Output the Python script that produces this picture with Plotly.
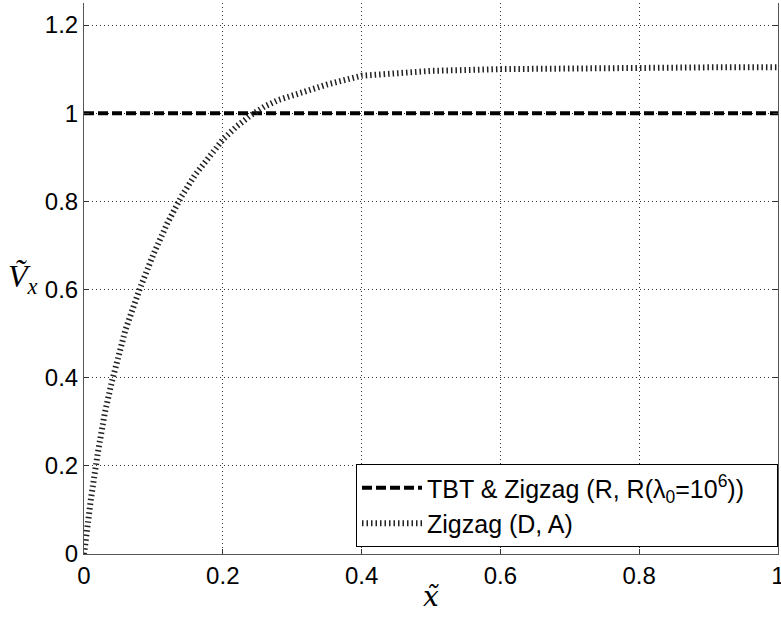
import plotly.graph_objects as go

# Data
x_tbt = [0.0, 1.0]
y_tbt = [1.0, 1.0]

x_zig = [0.0, 0.005, 0.01, 0.02, 0.03, 0.04, 0.05, 0.06, 0.08, 0.10, 0.12, 0.14, 0.16,
         0.18, 0.20, 0.22, 0.24, 0.26, 0.28, 0.30, 0.35, 0.40, 0.45, 0.50, 0.60,
         0.70, 0.80, 0.90, 1.0]
y_zig = [0.0, 0.065, 0.125, 0.23, 0.32, 0.39, 0.45, 0.51, 0.60, 0.68, 0.75, 0.81, 0.86,
         0.90, 0.94, 0.97, 0.995, 1.015, 1.03, 1.04, 1.065, 1.085, 1.092, 1.096, 1.100,
         1.102, 1.103, 1.104, 1.104]

x_ticks = [0, 0.2, 0.4, 0.6, 0.8, 1]
x_ticklabels = ["0", "0.2", "0.4", "0.6", "0.8", "1"]
y_ticks = [0, 0.2, 0.4, 0.6, 0.8, 1, 1.2]
y_ticklabels = ["0", "0.2", "0.4", "0.6", "0.8", "1", "1.2"]

legend_tbt = "TBT & Zigzag (R, R(λ<sub>0</sub>=10<sup>6</sup>))\u00a0\u00a0\u00a0\u00a0"
legend_zig = "Zigzag (D, A)"

fig = go.Figure()
fig.add_trace(go.Scatter(
    x=x_tbt, y=y_tbt, mode="lines", name=legend_tbt, legendgroup="a",
    line=dict(color="black", width=4, dash="10px,4px"),
))
fig.add_trace(go.Scatter(
    x=x_zig, y=y_zig, mode="lines", name=legend_zig, legendgroup="b",
    line=dict(color="#222222", width=6, dash="1.5px,3px"),
))

axis_common = dict(
    showgrid=True, gridcolor="#333333", griddash="1px,3px", gridwidth=1,
    showline=True, linecolor="#555555", linewidth=1,
    ticks="inside", ticklen=5, tickcolor="#333333",
    tickfont=dict(family="Liberation Sans, Arial, sans-serif", size=24, color="black"),
    zeroline=False, automargin=False, ticklabeloverflow="allow",
)

fig.update_xaxes(range=[0, 1], tickvals=x_ticks, ticktext=x_ticklabels,
                 mirror=False, **axis_common)
fig.update_yaxes(range=[0, 1.25], tickvals=y_ticks, ticktext=y_ticklabels,
                 mirror="ticks", **axis_common)

fig.add_annotation(
    text="<i>Ṽ</i><sub><i>x</i></sub>", xref="paper", yref="y",
    x=-0.112, y=0.625, xanchor="left", yanchor="middle", showarrow=False,
    font=dict(family="Liberation Serif, Times New Roman, serif", size=32, color="black"),
)
fig.add_annotation(
    text="<i>x̃</i>", xref="x", yref="paper",
    x=0.5, y=-0.077, xanchor="center", yanchor="middle", showarrow=False,
    font=dict(family="DejaVu Serif, serif", size=28, color="black"),
)

fig.update_layout(
    width=781, height=617,
    margin=dict(l=84, r=3, t=3, b=63),
    paper_bgcolor="white", plot_bgcolor="white",
    showlegend=True,
    legend=dict(
        x=1.0, y=0.0127, xanchor="right", yanchor="bottom",
        bgcolor="white", bordercolor="black", borderwidth=1,
        font=dict(family="Liberation Sans, Arial, sans-serif", size=25, color="black"),
        itemwidth=60, tracegroupgap=12, traceorder="normal",
    ),
)

fig.write_html("out.html", post_script="document.body.style.margin='0';",
               config={"displayModeBar": False})
